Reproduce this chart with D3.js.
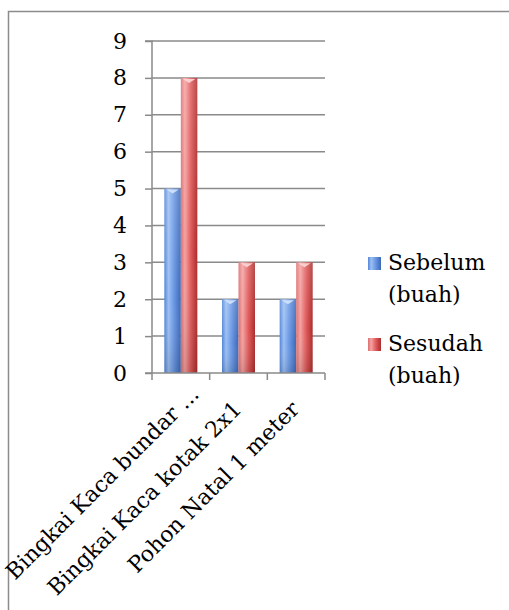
<!DOCTYPE html>
<html><head><meta charset="utf-8">
<script src="https://cdn.jsdelivr.net/npm/d3@7"></script>
<style>html,body{margin:0;padding:0;background:#fff;}svg{display:block;}</style>
</head><body>
<script>
const categories = ["Bingkai Kaca bundar ...", "Bingkai Kaca kotak 2x1", "Pohon Natal 1 meter"];
const seriesNames = ["Sebelum (buah)", "Sesudah (buah)"];
const sebelum = [5, 2, 2];
const sesudah = [8, 3, 3];
const yTicks = [0,1,2,3,4,5,6,7,8,9];

const W = 509, H = 610;
const FONT = "'DejaVu Serif', serif";
const FS = 22;
const svg = d3.select("body").append("svg").attr("width", W).attr("height", H);
const defs = svg.append("defs");

function grad(id, stops) {
  const g = defs.append("linearGradient").attr("id", id).attr("x1","0").attr("x2","1").attr("y1","0").attr("y2","0");
  stops.forEach(s => g.append("stop").attr("offset", s[0]).attr("stop-color", s[1]));
}
grad("gBlue", [[0,"#5286d6"],[0.25,"#9cbff4"],[0.6,"#6795e2"],[1,"#3c68b6"]]);
grad("gRed", [[0,"#dc7070"],[0.25,"#f5a2a2"],[0.6,"#e05a5a"],[1,"#ab2c2c"]]);
const vg = defs.append("linearGradient").attr("id","gShade").attr("x1","0").attr("x2","0").attr("y1","0").attr("y2","1");
vg.append("stop").attr("offset",0).attr("stop-color","#fff").attr("stop-opacity",0.15);
vg.append("stop").attr("offset",0.6).attr("stop-color","#fff").attr("stop-opacity",0);
vg.append("stop").attr("offset",1).attr("stop-color","#000").attr("stop-opacity",0.12);
const fills = ["url(#gBlue)", "url(#gRed)"];
const capCol = ["#d3e3fc", "#fcd6d6"];

// outer border (extends off canvas right/bottom)
svg.append("rect").attr("x", 8.5).attr("y", 11.5).attr("width", 600).attr("height", 700)
  .attr("fill", "none").attr("stroke", "#8c8c8c").attr("stroke-width", 1.5);

const y = d3.scaleLinear().domain([0, 9]).range([373, 41]);
const x = d3.scaleBand().domain(categories).range([152, 325]).paddingInner(0).paddingOuter(0);
const xs = d3.scaleBand().domain(seriesNames).range([0, 33]);
const groupOff = (x.bandwidth() - 33) / 2;

// gridlines
svg.append("g").selectAll("line").data(yTicks.filter(t => t > 0)).join("line")
  .attr("x1", 152).attr("x2", 325).attr("y1", d => y(d)).attr("y2", d => y(d))
  .attr("stroke", "#8a8a8a").attr("stroke-width", 1.5);

// y axis
const yAxis = d3.axisLeft(y).tickValues(yTicks).tickSize(7).tickPadding(14).tickFormat(d3.format("d"));
const gy = svg.append("g").attr("transform", "translate(152,0)").call(yAxis);
gy.select(".domain").attr("stroke", "#8a8a8a").attr("stroke-width", 1.5).attr("d", `M-7,${y(9)}H0V${y(0)}`);
gy.selectAll(".tick line").attr("stroke", "#8a8a8a").attr("stroke-width", 1.5);
gy.selectAll(".tick text").attr("font-family", FONT).attr("font-size", FS).attr("fill", "#000").attr("text-anchor", "middle").attr("x", -32);

// bars
const data = [sebelum, sesudah];
data.forEach((vals, si) => {
  const g = svg.append("g");
  const bx = (d, i) => x(categories[i]) + groupOff + xs(seriesNames[si]);
  g.selectAll("rect.b").data(vals).join("rect").attr("class","b")
    .attr("x", bx).attr("y", d => y(d)).attr("width", xs.bandwidth()).attr("height", d => y(0) - y(d))
    .attr("fill", fills[si]);
  g.selectAll("rect.s").data(vals).join("rect").attr("class","s")
    .attr("x", bx).attr("y", d => y(d)).attr("width", xs.bandwidth()).attr("height", d => y(0) - y(d))
    .attr("fill", "url(#gShade)");
  g.selectAll("path.c").data(vals).join("path").attr("class","c")
    .attr("d", (d, i) => {
      const x0 = bx(d, i), w = xs.bandwidth(), t = y(d);
      return `M${x0+2},${t+1} L${x0+w-2},${t+1} L${x0+w/2},${t+5} Z`;
    })
    .attr("fill", capCol[si]).attr("opacity", 0.9);
});

// x axis
const xAxis = d3.axisBottom(x).tickSize(0).tickFormat("");
const gx = svg.append("g").attr("transform", `translate(0,${y(0)})`).call(xAxis);
gx.select(".domain").attr("stroke", "#8a8a8a").attr("stroke-width", 1.5).attr("d", `M145,0H325`);
const bounds = [152, ...categories.map(c => x(c) + x.bandwidth())];
svg.append("g").selectAll("line").data(bounds).join("line")
  .attr("x1", d => d).attr("x2", d => d).attr("y1", y(0)).attr("y2", y(0) + 7)
  .attr("stroke", "#8a8a8a").attr("stroke-width", 1.5);

// category labels (truncated label sits further along its band)
svg.append("g").selectAll("text").data(categories).join("text")
  .attr("transform", (d, i) => {
    const s = d.endsWith("...") ? 0 : 15;
    return `translate(${x(d) + x.bandwidth()/2 + 14 - s},${y(0) + 17 + s}) rotate(-45)`;
  })
  .attr("text-anchor", "end").attr("dy", "0.35em")
  .attr("font-family", FONT).attr("font-size", FS).attr("fill", "#000")
  .text(d => d);

// legend
const leg = svg.append("g");
const legY = [257, 338];
seriesNames.forEach((n, i) => {
  leg.append("rect").attr("x", 368).attr("y", legY[i]).attr("width", 13).attr("height", 13).attr("fill", fills[i]);
  const parts = n.split(" ");
  const t = leg.append("text").attr("font-family", FONT).attr("font-size", FS).attr("fill", "#000");
  parts.forEach((p, k) => t.append("tspan").attr("x", 388).attr("y", legY[i] + 13 + k * 31.5).text(p));
});
</script>
</body></html>
